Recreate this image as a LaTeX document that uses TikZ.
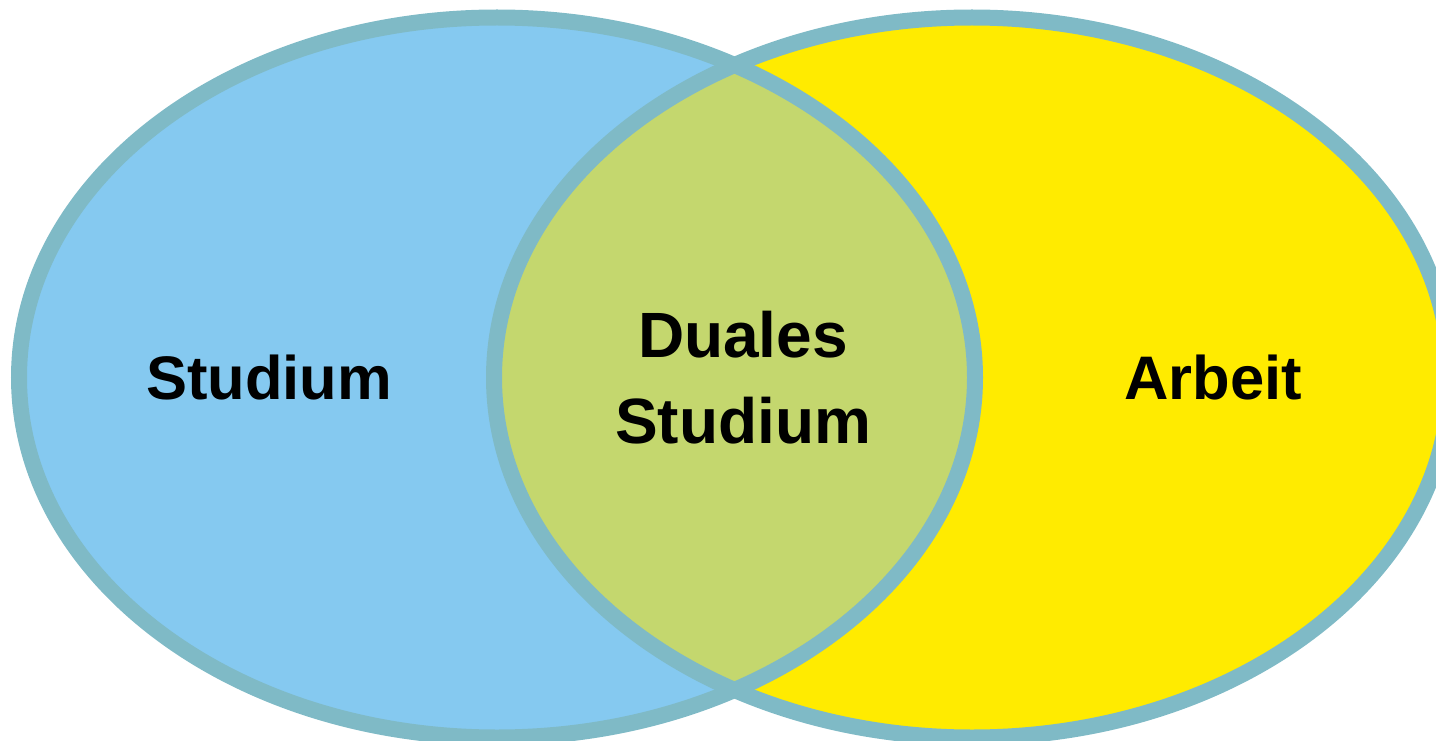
\documentclass[tikz,border=0pt]{standalone}
\usepackage{fontspec}
\setmainfont{Liberation Sans}
\usepackage{tikz}
\usepackage{xcolor}
\definecolor{ringteal}{HTML}{7FBAC6}
\definecolor{studblue}{HTML}{85C9F0}
\definecolor{arbyellow}{HTML}{FFEB00}
\definecolor{dualgreen}{HTML}{C4D76E}
\tikzset{
    venn_ring/.style={draw=ringteal, line width=16pt},
    venn_text/.style={font=\fontsize{61.5}{86}\selectfont\bfseries, text=black, align=center, inner sep=0pt},
    venn_mid/.style={venn_text, font=\fontsize{64}{86}\selectfont\bfseries}
}
\begin{document}
\begin{tikzpicture}[x=1pt, y=-1pt]
    \useasboundingbox (0,0) rectangle (1436,741);
    % fills
    \fill[studblue] (497,377.5) ellipse [x radius=478, y radius=360];
    \fill[arbyellow] (972,377.5) ellipse [x radius=478, y radius=360];
    \begin{scope}
        \clip (497,377.5) ellipse [x radius=478, y radius=360];
        \fill[dualgreen] (972,377.5) ellipse [x radius=478, y radius=360];
    \end{scope}
    % rings
    \draw[venn_ring] (497,377.5) ellipse [x radius=478, y radius=360];
    \draw[venn_ring] (972,377.5) ellipse [x radius=478, y radius=360];
    % labels
    \node[venn_text] (studium) at (269,378) {Studium};
    \node[venn_mid] (duales) at (743,378) {Duales\\Studium};
    \node[venn_text] (arbeit) at (1213,378) {Arbeit};
\end{tikzpicture}
\end{document}
